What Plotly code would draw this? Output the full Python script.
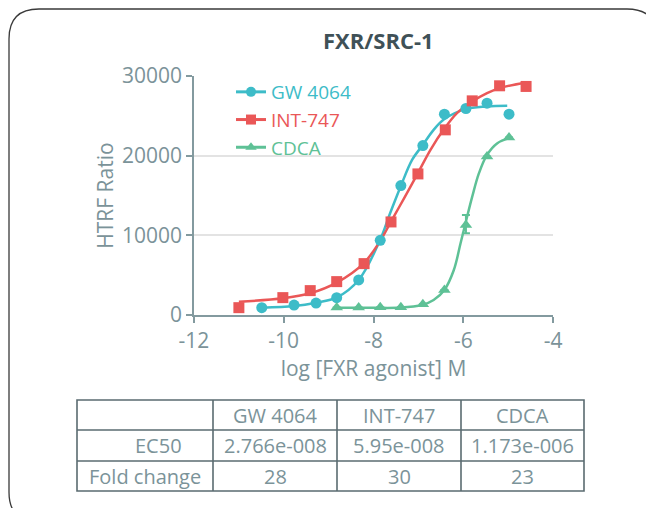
import plotly.graph_objects as go

# ---------------- data ----------------
series_names = ["GW 4064", "INT-747", "CDCA"]
series_colors = ["#3dbcc8", "#ea5757", "#5ec196"]
series_symbols = ["circle", "square", "triangle-up"]

gw_x = [-10.49, -9.77, -9.28, -8.82, -8.33, -7.85, -7.39, -6.90, -6.42, -5.94, -5.47, -4.98]
gw_y = [920, 1250, 1500, 2180, 4400, 9380, 16250, 21270, 25210, 25920, 26590, 25210]

int_x = [-11.0, -10.02, -9.41, -8.82, -8.21, -7.61, -7.01, -6.40, -5.80, -5.19, -4.60]
int_y = [920, 2180, 3060, 4190, 6450, 11680, 17710, 23240, 26880, 28770, 28690]

cdca_x = [-8.82, -8.33, -7.85, -7.39, -6.90, -6.42, -5.94, -5.47, -4.98]
cdca_y = [930, 930, 980, 980, 1340, 3140, 11300, 19890, 22280]
cdca_err_plus = [0, 0, 0, 0, 0, 0, 1260, 0, 0]
cdca_err_minus = [0, 0, 0, 0, 0, 0, 1040, 0, 0]

# fitted curves
gw_fit_x = [-10.49, -9.77, -9.28, -8.82, -8.33, -7.86, -7.63, -7.39, -7.14, -6.90, -6.66, -6.42, -5.95, -5.47, -5.02]
gw_fit_y = [920, 1130, 1550, 2200, 4400, 9330, 12780, 16200, 19470, 21360, 23240, 24590, 25840, 26170, 26260]

int_fit_x = [-11.0, -10.02, -9.41, -8.81, -8.22, -7.86, -7.61, -7.31, -7.02, -6.73, -6.44, -6.14, -5.80, -5.47, -5.19, -4.60]
int_fit_y = [1670, 2100, 2730, 4100, 6490, 9210, 11720, 14740, 17710, 20730, 23240, 25340, 26800, 27850, 28480, 29180]

cdca_fit_x = [-8.81, -8.0, -7.4, -6.92, -6.66, -6.42, -6.21, -6.06, -5.95, -5.80, -5.65, -5.47, -5.24, -4.98]
cdca_fit_y = [900, 900, 930, 1260, 1880, 3140, 5650, 9000, 11520, 14860, 17800, 20100, 21570, 22200]

x_tick_vals = [-12, -10, -8, -6, -4]
x_tick_text = ["-12", "-10", "-8", "-6", "-4"]
y_tick_vals = [0, 10000, 20000, 30000]
y_tick_text = ["0", "10000", "20000", "30000"]

title_text = "FXR/SRC-1"
x_title = "log [FXR agonist] M"
y_title = "HTRF Ratio"

table_header = ["", "GW 4064", "INT-747", "CDCA"]
table_row_labels = ["EC50", "Fold change"]
table_ec50 = ["2.766e-008", "5.95e-008", "1.173e-006"]
table_fold = ["28", "30", "23"]

# ---------------- layout geometry ----------------
W, H = 646, 508
PL, PR, PT, PB = 194, 553, 76, 315  # plot area in pixels
FONT = "Open Sans"
TEXT_GRAY = "#7b9399"
AXIS_GRAY = "#839a9f"
FS = 21


def px_x(p):
    return (p - PL) / (PR - PL)


def px_y(p):
    return (PB - p) / (PB - PT)


fig = go.Figure()

point_sets = [(gw_x, gw_y), (int_x, int_y), (cdca_x, cdca_y)]
fit_sets = [(gw_fit_x, gw_fit_y), (int_fit_x, int_fit_y), (cdca_fit_x, cdca_fit_y)]

for i, name in enumerate(series_names):
    col = series_colors[i]
    fx, fy = fit_sets[i]
    fig.add_trace(go.Scatter(
        x=fx, y=fy, mode="lines", line=dict(color=col, width=2.5, shape="spline", smoothing=1.0),
        showlegend=False, hoverinfo="skip"))
for i, name in enumerate(series_names):
    col = series_colors[i]
    px_, py_ = point_sets[i]
    err = None
    if name == "CDCA":
        err = dict(type="data", symmetric=False, array=cdca_err_plus, arrayminus=cdca_err_minus,
                   color=col, thickness=2, width=4)
    fig.add_trace(go.Scatter(
        x=px_, y=py_, mode="markers",
        marker=dict(symbol=series_symbols[i], size=11, color=col, line=dict(width=0)),
        error_y=err, showlegend=False, cliponaxis=False))

# legend entries
for i, name in enumerate(series_names):
    col = series_colors[i]
    fig.add_trace(go.Scatter(
        x=[None], y=[None], mode="lines+markers",
        name=f"<span style='color:{col}'>{name}</span>",
        line=dict(color=col, width=3),
        marker=dict(symbol=series_symbols[i], size=10, color=col)))

shapes = []
annotations = []

# outer rounded frame
l, t, r, b, rad = 9, 9, 657, 522, 30
path = (f"M {px_x(l)},{px_y(t + rad)} "
        f"Q {px_x(l)},{px_y(t)} {px_x(l + rad)},{px_y(t)} "
        f"L {px_x(r - rad)},{px_y(t)} "
        f"Q {px_x(r)},{px_y(t)} {px_x(r)},{px_y(t + rad)} "
        f"L {px_x(r)},{px_y(b - rad)} "
        f"Q {px_x(r)},{px_y(b)} {px_x(r - rad)},{px_y(b)} "
        f"L {px_x(l + rad)},{px_y(b)} "
        f"Q {px_x(l)},{px_y(b)} {px_x(l)},{px_y(b - rad)} Z")
shapes.append(dict(type="path", xref="paper", yref="paper", path=path,
                   line=dict(color="#3a3a3a", width=1.3), layer="below"))

# title
annotations.append(dict(text=f"<b>{title_text}</b>", x=px_x(378), y=px_y(40), xref="paper", yref="paper",
                        showarrow=False, xanchor="center", yanchor="middle",
                        font=dict(family=FONT, size=22, color="#3f5157")))

# table
tx = [77, 213, 337, 461, 584]
ty = [400, 430, 461, 491]
TL = "#5a6b70"
shapes.append(dict(type="rect", xref="paper", yref="paper", x0=px_x(tx[0]), x1=px_x(tx[-1]),
                   y0=px_y(ty[0]), y1=px_y(ty[-1]), line=dict(color=TL, width=1.6)))
for yy in ty[1:-1]:
    shapes.append(dict(type="line", xref="paper", yref="paper", x0=px_x(tx[0]), x1=px_x(tx[-1]),
                       y0=px_y(yy), y1=px_y(yy), line=dict(color=TL, width=1.6)))
for xx in tx[1:-1]:
    shapes.append(dict(type="line", xref="paper", yref="paper", x0=px_x(xx), x1=px_x(xx),
                       y0=px_y(ty[0]), y1=px_y(ty[-1]), line=dict(color=TL, width=1.6)))

rows = [table_header,
        [table_row_labels[0]] + table_ec50,
        [table_row_labels[1]] + table_fold]
for ri, row in enumerate(rows):
    cy = (ty[ri] + ty[ri + 1]) / 2
    for ci, txt in enumerate(row):
        if not txt:
            continue
        cx = (tx[ci] + tx[ci + 1]) / 2
        if ri == 1 and ci == 0:
            cx += 13
        annotations.append(dict(text=txt, x=px_x(cx), y=px_y(cy), xref="paper", yref="paper",
                                showarrow=False, xanchor="center", yanchor="middle",
                                font=dict(family=FONT, size=20, color=TEXT_GRAY)))

fig.update_layout(
    width=W, height=H,
    margin=dict(l=PL, r=W - PR, t=PT, b=H - PB),
    paper_bgcolor="white", plot_bgcolor="white",
    font=dict(family=FONT, size=FS, color=TEXT_GRAY),
    shapes=shapes, annotations=annotations,
    legend=dict(x=px_x(231), y=px_y(73), xanchor="left", yanchor="top",
                bgcolor="rgba(0,0,0,0)", font=dict(family=FONT, size=19),
                tracegroupgap=0, itemwidth=30),
    xaxis=dict(range=[-12, -4], tickvals=x_tick_vals, ticktext=x_tick_text,
               showline=True, linecolor=AXIS_GRAY, linewidth=1.5,
               ticks="outside", ticklen=6, tickwidth=1.5, tickcolor=AXIS_GRAY,
               showgrid=False, zeroline=False,
               tickfont=dict(family=FONT, size=FS, color=TEXT_GRAY),
               title=dict(text=x_title, font=dict(family=FONT, size=FS, color=TEXT_GRAY), standoff=8)),
    yaxis=dict(range=[0, 30000], tickvals=y_tick_vals, ticktext=y_tick_text,
               showline=True, linecolor=AXIS_GRAY, linewidth=1.5,
               ticks="outside", ticklen=6, tickwidth=1.5, tickcolor=AXIS_GRAY,
               showgrid=True, gridcolor="#e3e3e3", gridwidth=1.5, zeroline=False,
               tickfont=dict(family=FONT, size=FS, color=TEXT_GRAY),
               title=dict(text=y_title, font=dict(family=FONT, size=FS, color=TEXT_GRAY), standoff=3)),
)

fig.write_html("out.html", config={"displayModeBar": False},
               post_script="document.body.style.margin='0';document.body.style.padding='0';")
